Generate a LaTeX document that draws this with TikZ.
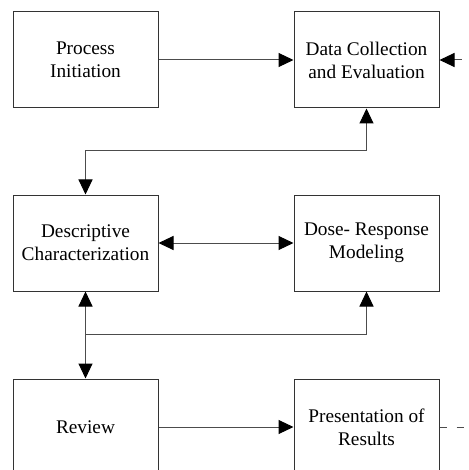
\documentclass[tikz,border=0pt]{standalone}
\usepackage{fontspec}
\setmainfont{Liberation Serif}
\usepackage{tikz}
\usetikzlibrary{positioning, arrows.meta}

\begin{document}
\begin{tikzpicture}[
    box/.style={draw=black!80, line width=1pt, minimum width=145pt, minimum height=96pt, align=center, inner sep=0pt, font=\fontsize{19.3}{23}\selectfont},
    link/.style={draw=black!70, line width=1pt},
    >={Triangle[length=15pt,width=14pt,black]}
]
    \clip (0pt,0pt) rectangle (468pt,-470pt);
    \node[box] (init) at (85.5pt,-60pt) {Process\\Initiation};
    \node[box, right=135pt of init] (collect) {Data Collection\\and Evaluation};
    \node[box, below=86pt of init] (descr) {Descriptive\\Characterization};
    \node[box, right=135pt of descr] (dose) {Dose- Response\\Modeling};
    \node[box, below=87pt of descr] (review) {Review};
    \node[box, right=135pt of review] (present) {Presentation of\\Results};
    \coordinate (feedin) at ([xshift=32pt]collect.east);
    \coordinate (feedout) at ([xshift=24pt]present.east);
    \draw[link, ->] (init) -- (collect);
    \draw[link, <->] (collect.south) -- ++(0,-42pt) -| (descr.north);
    \draw[link, <->] (descr) -- (dose);
    \draw[link, <->] (descr.south) -- (review.north);
    \path (descr.south) ++(0,-43pt) coordinate (split);
    \draw[link, ->] (split) -| (dose.south);
    \draw[link, ->] (review) -- (present);
    \draw[link, <-, dash pattern=on 8pt off 7pt] (collect.east) -- (feedin);
    \draw[link, dash pattern=on 7pt off 10pt] (present.east) -- (feedout);
\end{tikzpicture}
\end{document}
